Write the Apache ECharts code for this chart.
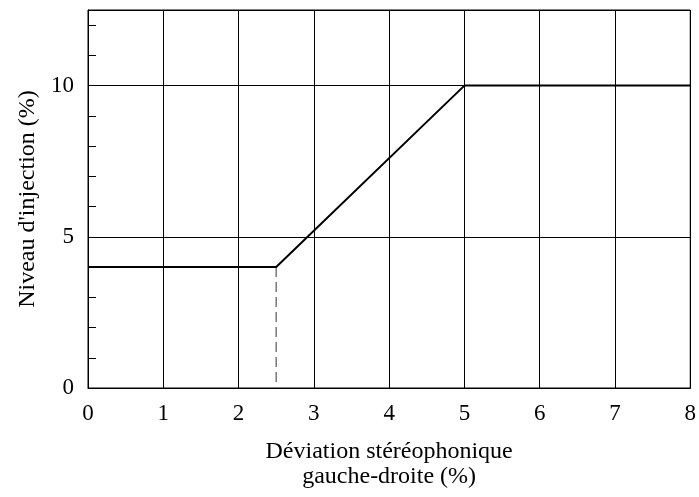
<!DOCTYPE html>
<html>
<head>
<meta charset="utf-8">
<script src="https://cdn.jsdelivr.net/npm/echarts@6/dist/echarts.min.js"></script>
<style>
html,body{margin:0;padding:0;background:#fff;}
#chart{width:699px;height:497px;}
</style>
</head>
<body>
<div id="chart"></div>
<script>
// Data
const curveX = [0, 2.5, 5, 8];
const curveY = [4, 4, 10, 10];
const dashX = [2.5, 2.5];
const dashY = [4, 0];
const xTickLabels = ['0','1','2','3','4','5','6','7','8'];
const yTickLabels = ['0','5','10'];
const xName = 'Déviation stéréophonique\ngauche-droite (%)';
const yName = "Niveau d'injection (%)";

const FONT = '"Liberation Serif", "Times New Roman", serif';
const chart = echarts.init(document.getElementById('chart'), null, {renderer: 'canvas'});

const curve = curveX.map((x, i) => [x, curveY[i]]);
const dash = dashX.map((x, i) => [x, dashY[i]]);

chart.setOption({
  animation: false,
  backgroundColor: '#fff',
  grid: {left: 88, right: 5.5, top: 10, bottom: 109, show: true, borderColor: '#000', borderWidth: 1, backgroundColor: 'transparent'},
  xAxis: {
    type: 'value', min: 0, max: 8, interval: 1,
    name: xName, nameLocation: 'middle', nameGap: 51,
    nameTextStyle: {fontFamily: FONT, fontSize: 24, color: '#000', lineHeight: 25},
    axisLine: {show: true, lineStyle: {color: '#000', width: 1}},
    axisTick: {show: false},
    axisLabel: {margin: 14, fontFamily: FONT, fontSize: 23, color: '#000',
      formatter: v => xTickLabels[Math.round(v)] !== undefined ? xTickLabels[Math.round(v)] : ''},
    splitLine: {show: true, lineStyle: {color: '#000', width: 1}}
  },
  yAxis: [{
    type: 'value', min: 0, max: 12.5, interval: 5,
    name: yName, nameLocation: 'middle', nameGap: 48, nameRotate: 90,
    nameTextStyle: {fontFamily: FONT, fontSize: 24, color: '#000'},
    axisLine: {show: true, lineStyle: {color: '#000', width: 1}},
    axisTick: {show: false},
    axisLabel: {margin: 14, fontFamily: FONT, fontSize: 23, color: '#000',
      formatter: v => yTickLabels.indexOf(String(v)) >= 0 ? String(v) : ''},
    splitLine: {show: true, lineStyle: {color: '#000', width: 1}}
  }, {
    type: 'value', min: 0, max: 12.5, interval: 1, position: 'left', offset: 0,
    axisLine: {show: false},
    axisTick: {show: true, inside: true, length: 8, lineStyle: {color: '#000', width: 1}},
    axisLabel: {show: false},
    splitLine: {show: false}
  }],
  series: [{
    type: 'line', data: curve, showSymbol: false, symbol: 'none',
    lineStyle: {color: '#000', width: 2}, z: 5
  }, {
    type: 'line', data: dash, showSymbol: false, symbol: 'none',
    lineStyle: {color: '#777', width: 1.5, type: [10, 5]}, z: 4
  }]
});
</script>
</body>
</html>
